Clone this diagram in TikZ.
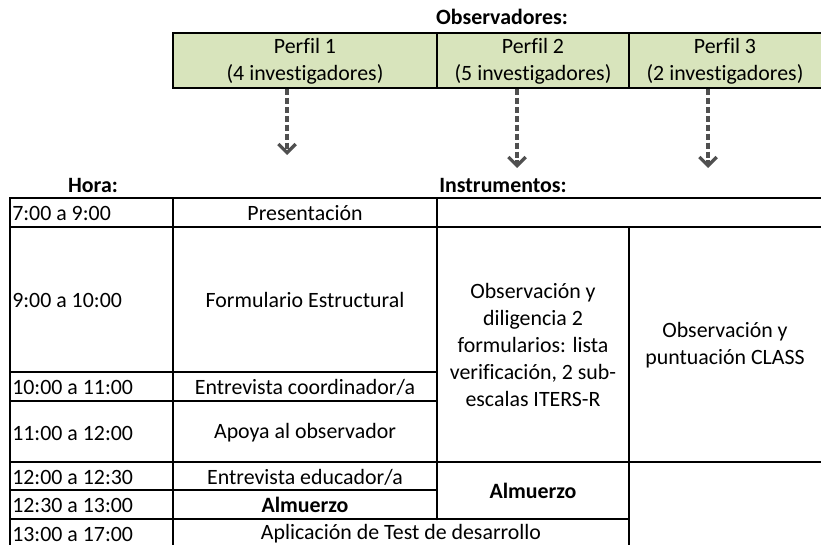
\documentclass[tikz,border=0pt]{standalone}
\usepackage{fontspec}
\setmainfont{Carlito}[Ligatures=CommonOff]
\usetikzlibrary{arrows.meta}
\definecolor{olivefill}{RGB}{216,228,188}
\definecolor{arrowgray}{RGB}{80,80,80}
\begin{document}
\begin{tikzpicture}[x=0.75pt,y=-0.75pt,
  txt/.style={font=\fontsize{16.4}{20.3}\selectfont, inner sep=0pt, align=center},
  lbl/.style={txt, anchor=west},
  bhead/.style={txt, font=\fontsize{16.4}{20.3}\selectfont\bfseries},
  gridline/.style={line width=1.5pt, black},
  boxline/.style={line width=1.1pt, black},
  arr/.style={draw=arrowgray, line width=2.7pt, dash pattern=on 4.5pt off 2.2pt,
    -{Straight Barb[length=6.5pt,width=13pt,line width=2.5pt]}}
]
\useasboundingbox (0,0) rectangle (821,545);

% ---- observers header ----
\node[bhead] (obs) at (502,17) {Observadores:};
\fill[olivefill] (173,33) rectangle (823,88);
\draw[boxline] (173,33) rectangle (823,88);
\draw[boxline] (437,33) -- (437,88);
\draw[boxline] (629,33) -- (629,88);
\node[txt] (p1) at (305,61) {Perfil 1\\(4 investigadores)};
\node[txt] (p2) at (533,61) {Perfil 2\\(5 investigadores)};
\node[txt] (p3) at (725,61) {Perfil 3\\(2 investigadores)};

% ---- arrows ----
\coordinate (a1s) at (287,89);  \coordinate (a1e) at (287,155);
\coordinate (a2s) at (517,89);  \coordinate (a2e) at (517,168);
\coordinate (a3s) at (708,89);  \coordinate (a3e) at (708,168);
\draw[arr] (a1s) -- (a1e);
\draw[arr] (a2s) -- (a2e);
\draw[arr] (a3s) -- (a3e);

% ---- lower table headers ----
\node[bhead] (hora) at (93,185) {Hora:};
\node[bhead] (instr) at (503,185) {Instrumentos:};

% ---- grid ----
\draw[gridline] (10,198) -- (823,198);
\draw[gridline] (10,227) -- (823,227);
\draw[gridline] (10,372) -- (437,372);
\draw[gridline] (10,401) -- (437,401);
\draw[gridline] (10,462) -- (823,462);
\draw[gridline] (10,490) -- (437,490);
\draw[gridline] (10,519) -- (629,519);
\draw[gridline] (10,197.3) -- (10,547);
\draw[gridline] (173,197.3) -- (173,547);
\draw[gridline] (437,197.3) -- (437,519.7);
\draw[gridline] (629,227) -- (629,547);

% ---- time column ----
\node[lbl] (t1) at (12,213) {7:00 a 9:00};
\node[lbl] (t2) at (12,300) {9:00 a 10:00};
\node[lbl] (t3) at (12,387) {10:00 a 11:00};
\node[lbl] (t4) at (12,433) {11:00 a 12:00};
\node[lbl] (t5) at (12,477) {12:00 a 12:30};
\node[lbl] (t6) at (12,505) {12:30 a 13:00};
\node[lbl] (t7) at (12,534) {13:00 a 17:00};

% ---- activity column ----
\node[txt] (c1) at (305,213) {Presentación};
\node[txt] (c2) at (305,300) {Formulario Estructural};
\node[txt] (c3) at (305,387) {Entrevista coordinador/a};
\node[txt] (c4) at (305,433) {Apoya al observador};
\node[txt] (c5) at (305,477) {Entrevista educador/a};
\node[bhead] (c6) at (305,505) {Almuerzo};
\node[txt] (c7) at (401,534) {Aplicación de Test de desarrollo};

% ---- instruments ----
\node[txt] (i2) at (533,345) {Observación y\\diligencia 2\\formularios: lista\\verificación, 2 sub-\\escalas ITERS-R};
\node[txt] (i3) at (725,345) {Observación y\\puntuación CLASS};
\node[bhead] (i4) at (533,491) {Almuerzo};
\end{tikzpicture}
\end{document}
